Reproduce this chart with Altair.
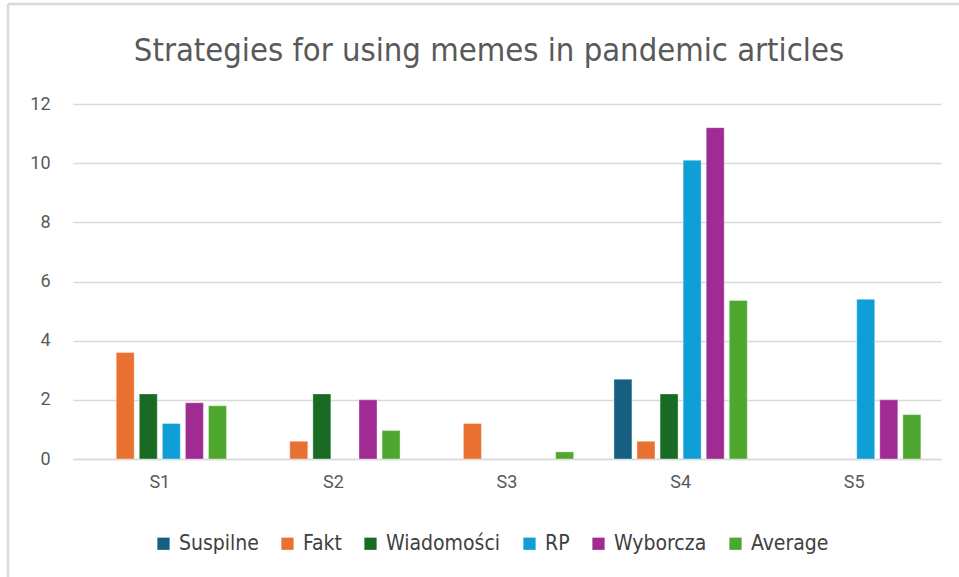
import altair as alt
import pandas as pd

strategies = ["S1", "S2", "S3", "S4", "S5"]
series = ["Suspilne", "Fakt", "Wiadomości", "RP", "Wyborcza", "Average"]
colors = ["#156082", "#E97132", "#196B24", "#0F9ED5", "#A02B93", "#4EA72E"]

suspilne = [0, 0, 0, 2.7, 0]
fakt = [3.6, 0.6, 1.2, 0.6, 0]
wiadomosci = [2.2, 2.2, 0, 2.2, 0]
rp = [1.2, 0, 0, 10.1, 5.4]
wyborcza = [1.9, 2.0, 0, 11.2, 2.0]
average = [1.8, 0.96, 0.24, 5.36, 1.5]

values = [suspilne, fakt, wiadomosci, rp, wyborcza, average]
rows = []
for s, vals in zip(series, values):
    for st, v in zip(strategies, vals):
        rows.append({"strategy": st, "series": s, "value": v})
df = pd.DataFrame(rows)

FONT = "Roboto"
NARROW = "DejaVu Sans Condensed, Roboto"

bars = alt.Chart(df).transform_filter("datum.value > 0").mark_bar(
    stroke="white", strokeWidth=0.6, strokeOpacity=0.6
).encode(
    x=alt.X("strategy:N", sort=strategies,
            scale=alt.Scale(paddingInner=0.232, paddingOuter=0.116),
            axis=alt.Axis(title=None, labelAngle=0, labelFont=FONT, labelFontSize=18,
                          labelColor="#595959", ticks=False, domain=True,
                          domainColor="#d9d9d9", domainWidth=1.5, labelPadding=14,
                          grid=False)),
    xOffset=alt.XOffset("series:N", sort=series,
                        scale=alt.Scale(domain=series, paddingInner=0.22, paddingOuter=0)),
    y=alt.Y("value:Q", scale=alt.Scale(domain=[0, 12]),
            axis=alt.Axis(title=None, values=[0, 2, 4, 6, 8, 10, 12], labelFont=FONT,
                          labelFontSize=18, labelColor="#595959", ticks=False,
                          domain=False, gridColor="#d9d9d9", gridWidth=1.5,
                          labelPadding=23)),
    color=alt.Color("series:N", sort=series,
                    scale=alt.Scale(domain=series, range=colors),
                    legend=alt.Legend(title=None, orient="none", legendX=80, legendY=429,
                                      direction="horizontal",
                                      columns=6, symbolType="square", symbolSize=150,
                                      symbolStrokeWidth=0, labelFont=NARROW,
                                      labelFontSize=21, labelColor="#404040",
                                      columnPadding=18, symbolOffset=0,
                                      labelOffset=5)),
)

frame_df = pd.DataFrame({"k": [0]})
frame_left = alt.Chart(frame_df).mark_rule(color="#d9d9d9", strokeWidth=2.5, clip=False).encode(
    x=alt.value(-65), y=alt.value(-100), y2=alt.value(480))
frame_top = alt.Chart(frame_df).mark_rule(color="#d9d9d9", strokeWidth=2.5, clip=False).encode(
    x=alt.value(-65), x2=alt.value(900), y=alt.value(-100))

chart = alt.layer(frame_left, frame_top, bars).properties(
    width=868, height=355,
    title=alt.TitleParams("Strategies for using memes in pandemic articles",
                          font=NARROW, fontSize=32.5, fontWeight="normal",
                          color="#595959", anchor="middle", offset=0, dx=-18, dy=65),
    autosize=alt.AutoSizeParams(type="none"),
    padding={"left": 73, "top": 104, "right": 18, "bottom": 118},
).configure_view(stroke=None)

chart.save("out.html", embed_options={"renderer": "svg", "actions": False})
